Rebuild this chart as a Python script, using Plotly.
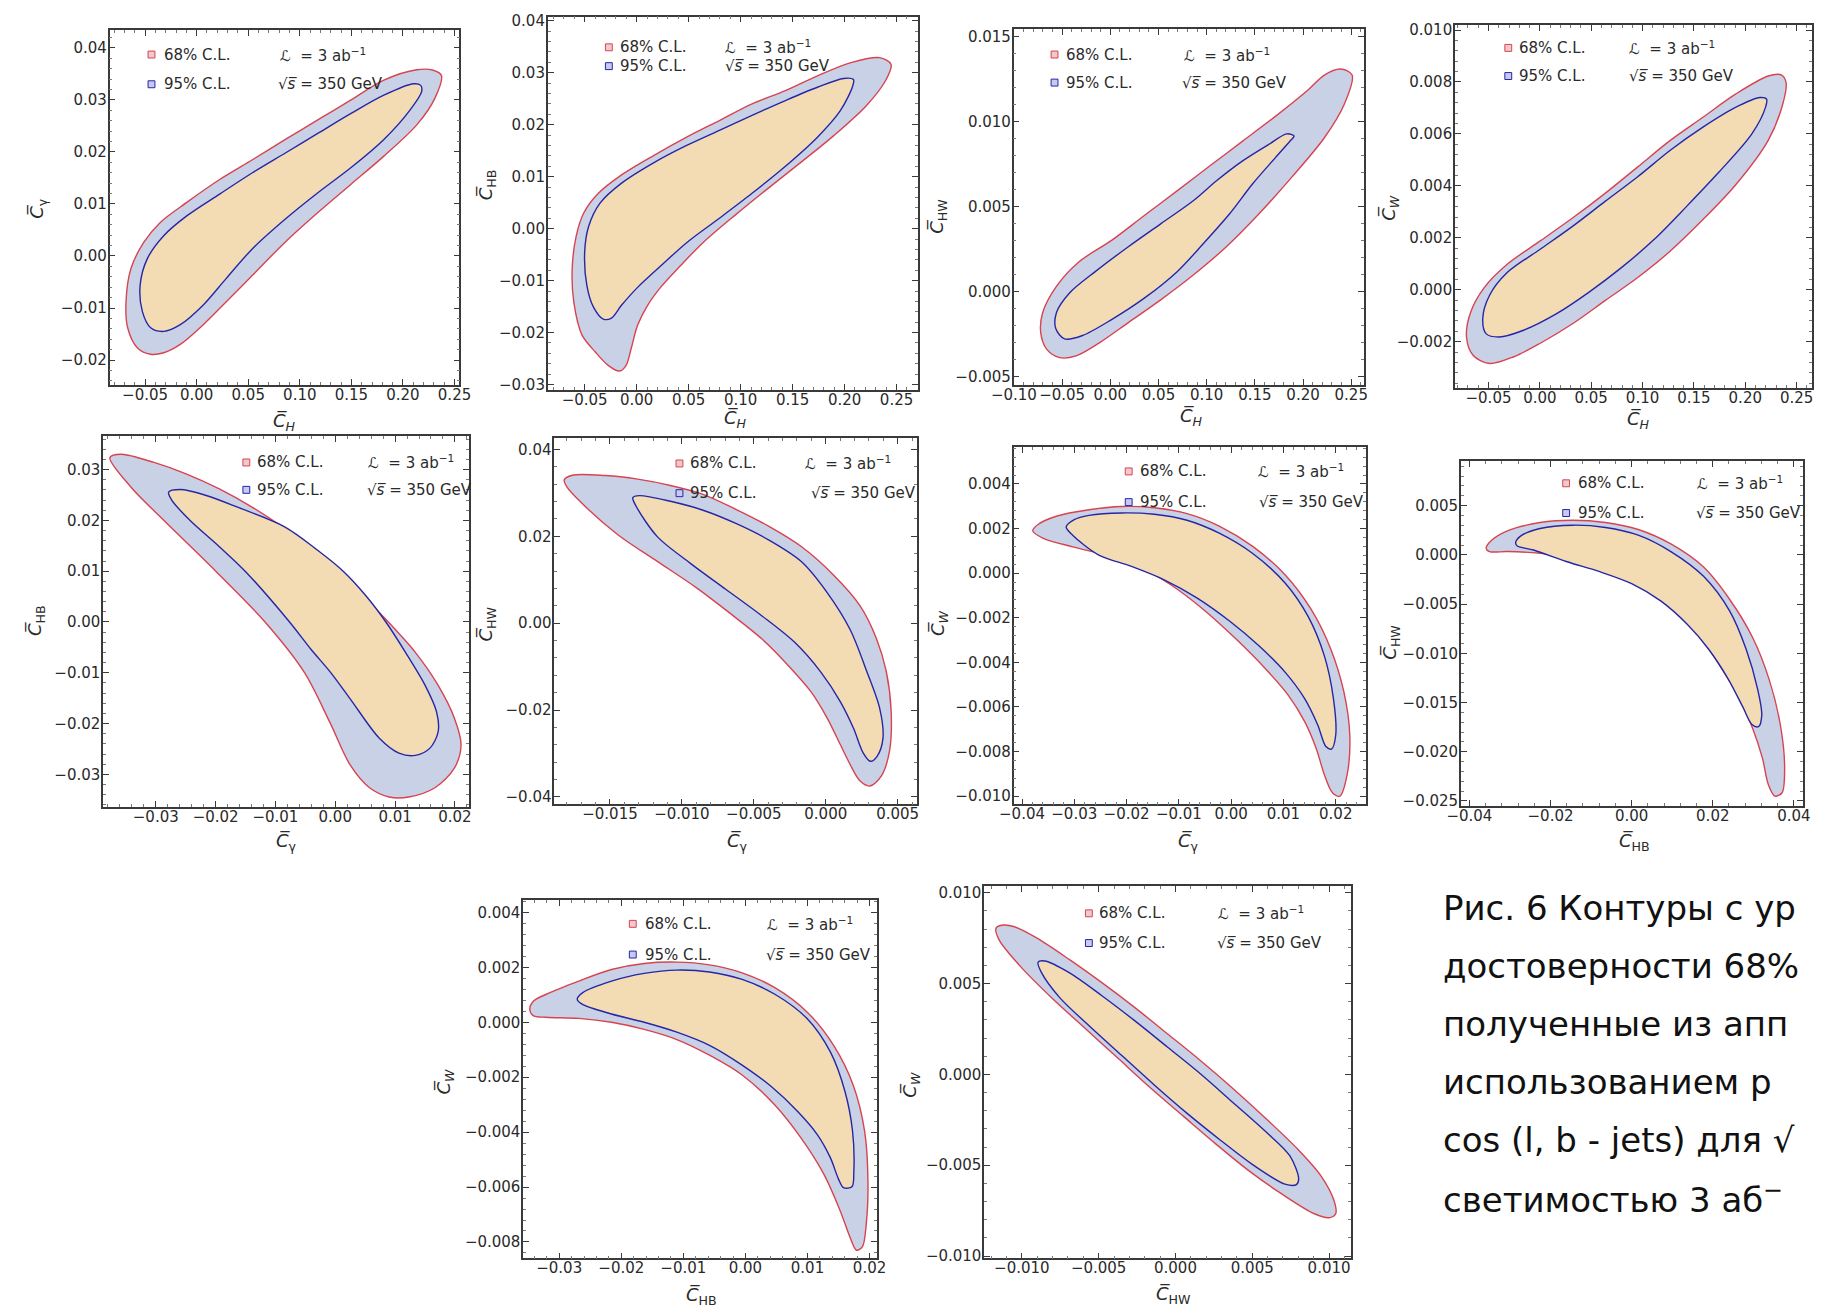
import plotly.graph_objects as go

W, H = 1826, 1314

# ---------------- contour data ----------------
# Panel 1: c_H vs c_gamma
p1_outer_x = [0.2373, 0.2293, 0.2134, 0.1815, 0.1497, 0.1178, 0.0860, 0.0541, 0.0223, -0.0096, -0.0350, -0.0510, -0.0637, -0.0685, -0.0669, -0.0573, -0.0446, -0.0319, -0.0159, 0.0064, 0.0287, 0.0541, 0.0860, 0.1178, 0.1497, 0.1815, 0.2134, 0.2309]
p1_outer_y = [0.0347, 0.0357, 0.0358, 0.0338, 0.0300, 0.0262, 0.0224, 0.0185, 0.0147, 0.0103, 0.0065, 0.0027, -0.0024, -0.0088, -0.0138, -0.0177, -0.0189, -0.0186, -0.0170, -0.0132, -0.0088, -0.0037, 0.0027, 0.0084, 0.0138, 0.0192, 0.0252, 0.0303]
p1_inner_x = [0.2172, 0.2102, 0.1815, 0.1497, 0.1178, 0.0860, 0.0541, 0.0223, -0.0096, -0.0319, -0.0478, -0.0548, -0.0526, -0.0446, -0.0319, -0.0159, 0.0064, 0.0287, 0.0541, 0.0860, 0.1178, 0.1497, 0.1815, 0.2070, 0.2181]
p1_inner_y = [0.0328, 0.0331, 0.0309, 0.0274, 0.0236, 0.0198, 0.0160, 0.0119, 0.0077, 0.0039, -0.0005, -0.0056, -0.0107, -0.0138, -0.0145, -0.0132, -0.0094, -0.0043, 0.0014, 0.0071, 0.0122, 0.0170, 0.0224, 0.0281, 0.0316]

# Panel 2: c_H vs c_HB
p2_outer_x = [0.2447, 0.2337, 0.2054, 0.1739, 0.1425, 0.1110, 0.0796, 0.0481, 0.0167, -0.0148, -0.0368, -0.0509, -0.0582, -0.0620, -0.0604, -0.0525, -0.0399, -0.0274, -0.0164, -0.0101, -0.0053, 0.0009, 0.0104, 0.0230, 0.0418, 0.0638, 0.0953, 0.1267, 0.1582, 0.1896, 0.2211, 0.2400]
p2_outer_y = [0.0316, 0.0329, 0.0319, 0.0294, 0.0265, 0.0240, 0.0208, 0.0176, 0.0141, 0.0103, 0.0068, 0.0030, -0.0015, -0.0078, -0.0142, -0.0205, -0.0237, -0.0263, -0.0274, -0.0263, -0.0231, -0.0186, -0.0148, -0.0113, -0.0072, -0.0027, 0.0027, 0.0078, 0.0128, 0.0179, 0.0237, 0.0287]
p2_inner_x = [0.2085, 0.1991, 0.1739, 0.1425, 0.1110, 0.0796, 0.0481, 0.0167, -0.0148, -0.0352, -0.0462, -0.0500, -0.0478, -0.0415, -0.0321, -0.0242, -0.0148, 0.0009, 0.0230, 0.0481, 0.0796, 0.1110, 0.1425, 0.1739, 0.1959, 0.2079]
p2_inner_y = [0.0287, 0.0289, 0.0272, 0.0246, 0.0218, 0.0189, 0.0160, 0.0127, 0.0087, 0.0049, 0.0004, -0.0046, -0.0110, -0.0151, -0.0174, -0.0172, -0.0148, -0.0113, -0.0072, -0.0027, 0.0020, 0.0068, 0.0119, 0.0176, 0.0227, 0.0275]

# Panel 3: c_H vs c_HW
p3_outer_x = [0.2509, 0.2390, 0.2221, 0.2051, 0.1713, 0.1373, 0.1034, 0.0696, 0.0356, 0.0017, -0.0321, -0.0559, -0.0702, -0.0722, -0.0661, -0.0525, -0.0356, -0.0118, 0.0187, 0.0526, 0.0864, 0.1204, 0.1543, 0.1881, 0.2221, 0.2425]
p3_outer_y = [0.01272, 0.01307, 0.01272, 0.01184, 0.01029, 0.00883, 0.00738, 0.00592, 0.00447, 0.00301, 0.00175, 0.00029, -0.00126, -0.00243, -0.00340, -0.00390, -0.00380, -0.00305, -0.00184, -0.00049, 0.00097, 0.00262, 0.00456, 0.00670, 0.00903, 0.01097]
p3_inner_x = [0.1906, 0.1831, 0.1644, 0.1373, 0.1102, 0.0864, 0.0526, 0.0187, -0.0153, -0.0423, -0.0559, -0.0565, -0.0474, -0.0288, 0.0017, 0.0356, 0.0696, 0.0966, 0.1238, 0.1475, 0.1713, 0.1865]
p3_inner_y = [0.00913, 0.00926, 0.00864, 0.00767, 0.00650, 0.00534, 0.00398, 0.00262, 0.00117, -0.00010, -0.00126, -0.00220, -0.00280, -0.00260, -0.00165, -0.00039, 0.00117, 0.00281, 0.00456, 0.00631, 0.00786, 0.00884]

# Panel 4: c_H vs c_W
p4_outer_x = [0.2397, 0.2350, 0.2223, 0.1905, 0.1588, 0.1270, 0.0953, 0.0635, 0.0318, 0.0000, -0.0318, -0.0540, -0.0673, -0.0714, -0.0651, -0.0492, -0.0254, 0.0000, 0.0318, 0.0635, 0.0953, 0.1270, 0.1588, 0.1905, 0.2223, 0.2365]
p4_outer_y = [0.00798, 0.00827, 0.00823, 0.00753, 0.00664, 0.00575, 0.00473, 0.00371, 0.00276, 0.00187, 0.00098, 0.00009, -0.00086, -0.00182, -0.00252, -0.00284, -0.00258, -0.00207, -0.00131, -0.00042, 0.00047, 0.00149, 0.00270, 0.00403, 0.00575, 0.00715]
p4_inner_x = [0.2207, 0.2143, 0.1905, 0.1588, 0.1270, 0.0953, 0.0635, 0.0318, 0.0000, -0.0318, -0.0492, -0.0556, -0.0524, -0.0397, -0.0159, 0.0159, 0.0476, 0.0794, 0.1111, 0.1429, 0.1746, 0.2064, 0.2197]
p4_inner_y = [0.00734, 0.00740, 0.00702, 0.00626, 0.00537, 0.00435, 0.00340, 0.00244, 0.00155, 0.00066, -0.00023, -0.00112, -0.00169, -0.00182, -0.00156, -0.00093, -0.00010, 0.00085, 0.00193, 0.00321, 0.00454, 0.00600, 0.00702]

# Panel 5: c_gamma vs c_HB
p5_outer_x = [-0.03767, -0.03576, -0.03030, -0.02484, -0.01938, -0.01392, -0.00846, -0.00300, 0.00246, 0.00792, 0.01338, 0.01720, 0.01993, 0.02102, 0.01993, 0.01665, 0.01229, 0.00901, 0.00573, 0.00246, -0.00082, -0.00519, -0.01174, -0.01993, -0.02867, -0.03413]
p5_outer_y = [0.03237, 0.03302, 0.03140, 0.02912, 0.02620, 0.02262, 0.01840, 0.01352, 0.00767, 0.00117, -0.00598, -0.01248, -0.01898, -0.02418, -0.02873, -0.03263, -0.03445, -0.03445, -0.03263, -0.02808, -0.01996, -0.00988, 0.00000, 0.00995, 0.02002, 0.02652]
p5_inner_x = [-0.02785, -0.02594, -0.02157, -0.01611, -0.00846, -0.00300, 0.00137, 0.00519, 0.00846, 0.01174, 0.01502, 0.01693, 0.01720, 0.01583, 0.01338, 0.01065, 0.00737, 0.00246, -0.00082, -0.00410, -0.00764, -0.01502, -0.01938, -0.02430, -0.02730]
p5_inner_y = [0.02555, 0.02607, 0.02490, 0.02249, 0.01872, 0.01417, 0.00995, 0.00507, 0.00000, -0.00598, -0.01248, -0.01768, -0.02158, -0.02483, -0.02626, -0.02581, -0.02288, -0.01508, -0.00988, -0.00533, 0.00000, 0.00995, 0.01482, 0.02002, 0.02392]

# Panel 6: c_gamma vs c_HW
p6_outer_x = [-0.01818, -0.01762, -0.01534, -0.01307, -0.01080, -0.00853, -0.00625, -0.00398, -0.00170, 0.00057, 0.00239, 0.00352, 0.00420, 0.00455, 0.00443, 0.00386, 0.00307, 0.00239, 0.00170, 0.00102, 0.00011, -0.00102, -0.00261, -0.00443, -0.00671, -0.00898, -0.01171, -0.01443, -0.01693, -0.01802]
p6_outer_y = [0.03301, 0.03407, 0.03399, 0.03316, 0.03171, 0.02966, 0.02620, 0.02235, 0.01765, 0.01100, 0.00400, -0.00350, -0.01100, -0.02038, -0.02951, -0.03521, -0.03749, -0.03635, -0.03255, -0.02799, -0.02190, -0.01582, -0.00973, -0.00365, 0.00243, 0.00814, 0.01422, 0.02031, 0.02753, 0.03149]
p6_inner_x = [-0.01341, -0.01296, -0.01080, -0.00853, -0.00625, -0.00398, -0.00170, 0.00011, 0.00170, 0.00284, 0.00375, 0.00398, 0.00357, 0.00311, 0.00261, 0.00193, 0.00102, -0.00034, -0.00216, -0.00443, -0.00693, -0.00943, -0.01171, -0.01318]
p6_inner_y = [0.02890, 0.02936, 0.02806, 0.02601, 0.02297, 0.01920, 0.01420, 0.00700, -0.00150, -0.01100, -0.01962, -0.02647, -0.03065, -0.03179, -0.02989, -0.02418, -0.01810, -0.01126, -0.00441, 0.00167, 0.00776, 0.01384, 0.01993, 0.02692]

# Panel 7: c_gamma vs c_W
p7_outer_x = [-0.03794, -0.03688, -0.03344, -0.02719, -0.02094, -0.01469, -0.00844, -0.00219, 0.00406, 0.01031, 0.01531, 0.01906, 0.02156, 0.02269, 0.02219, 0.02081, 0.01938, 0.01781, 0.01625, 0.01406, 0.01094, 0.00656, 0.00094, -0.00531, -0.01156, -0.01781, -0.02406, -0.03031, -0.03594]
p7_outer_y = [0.00190, 0.00219, 0.00255, 0.00284, 0.00299, 0.00293, 0.00267, 0.00210, 0.00121, -0.00007, -0.00163, -0.00341, -0.00533, -0.00726, -0.00903, -0.01000, -0.00985, -0.00903, -0.00785, -0.00666, -0.00548, -0.00429, -0.00296, -0.00163, -0.00052, 0.00030, 0.00081, 0.00118, 0.00156]
p7_inner_x = [-0.03156, -0.03000, -0.02719, -0.02094, -0.01469, -0.00844, -0.00219, 0.00406, 0.01031, 0.01469, 0.01781, 0.01956, 0.02000, 0.01919, 0.01813, 0.01656, 0.01406, 0.01031, 0.00531, -0.00031, -0.00656, -0.01281, -0.01906, -0.02531, -0.03031]
p7_inner_y = [0.00207, 0.00240, 0.00259, 0.00270, 0.00264, 0.00237, 0.00178, 0.00089, -0.00044, -0.00193, -0.00370, -0.00563, -0.00726, -0.00789, -0.00778, -0.00681, -0.00563, -0.00444, -0.00326, -0.00215, -0.00111, -0.00030, 0.00030, 0.00081, 0.00170]

# Panel 8: c_HB vs c_HW
p8_outer_x = [-0.03587, -0.03466, -0.03063, -0.02257, -0.01451, -0.00645, 0.00161, 0.00967, 0.01773, 0.02418, 0.02982, 0.03385, 0.03667, 0.03772, 0.03708, 0.03530, 0.03369, 0.03224, 0.02982, 0.02660, 0.02176, 0.01612, 0.00967, 0.00161, -0.00645, -0.01451, -0.02257, -0.03063, -0.03506]
p8_outer_y = [0.00067, 0.00144, 0.00245, 0.00329, 0.00352, 0.00329, 0.00258, 0.00111, -0.00124, -0.00453, -0.00839, -0.01259, -0.01728, -0.02165, -0.02416, -0.02450, -0.02332, -0.02064, -0.01762, -0.01460, -0.01124, -0.00789, -0.00503, -0.00268, -0.00117, -0.00023, 0.00017, 0.00034, 0.00034]
p8_inner_x = [-0.02861, -0.02740, -0.02257, -0.01451, -0.00645, 0.00161, 0.00967, 0.01773, 0.02418, 0.02821, 0.03103, 0.03208, 0.03127, 0.02966, 0.02740, 0.02378, 0.01894, 0.01370, 0.00725, 0.00000, -0.00806, -0.01612, -0.02418, -0.02821]
p8_inner_y = [0.00124, 0.00191, 0.00268, 0.00302, 0.00279, 0.00201, 0.00034, -0.00218, -0.00571, -0.00956, -0.01359, -0.01628, -0.01745, -0.01722, -0.01544, -0.01259, -0.00956, -0.00705, -0.00470, -0.00292, -0.00168, -0.00067, 0.00050, 0.00091]

# Panel 9: c_HB vs c_W
p9_outer_x = [-0.03474, -0.03410, -0.03210, -0.02684, -0.02158, -0.01631, -0.01105, -0.00579, -0.00053, 0.00474, 0.01000, 0.01421, 0.01737, 0.01921, 0.01974, 0.01947, 0.01884, 0.01789, 0.01684, 0.01526, 0.01263, 0.00895, 0.00474, -0.00053, -0.00579, -0.01105, -0.01631, -0.02158, -0.02684, -0.03210, -0.03421]
p9_outer_y = [0.00048, 0.00078, 0.00102, 0.00150, 0.00192, 0.00214, 0.00219, 0.00209, 0.00180, 0.00126, 0.00036, -0.00084, -0.00229, -0.00397, -0.00577, -0.00734, -0.00818, -0.00830, -0.00782, -0.00686, -0.00553, -0.00421, -0.00301, -0.00192, -0.00120, -0.00063, -0.00026, 0.00000, 0.00014, 0.00018, 0.00024]
p9_inner_x = [-0.02710, -0.02621, -0.02158, -0.01631, -0.01105, -0.00579, -0.00053, 0.00474, 0.01000, 0.01368, 0.01605, 0.01726, 0.01747, 0.01716, 0.01579, 0.01500, 0.01368, 0.01158, 0.00842, 0.00421, -0.00053, -0.00579, -0.01105, -0.01631, -0.02158, -0.02631]
p9_inner_y = [0.00084, 0.00108, 0.00150, 0.00178, 0.00190, 0.00183, 0.00156, 0.00102, 0.00012, -0.00108, -0.00253, -0.00397, -0.00541, -0.00599, -0.00602, -0.00571, -0.00493, -0.00409, -0.00325, -0.00235, -0.00156, -0.00084, -0.00036, 0.00000, 0.00030, 0.00066]

# Panel 10: c_HW vs c_W
p10_outer_x = [-0.01168, -0.01121, -0.01053, -0.00904, -0.00692, -0.00479, -0.00266, -0.00053, 0.00160, 0.00372, 0.00585, 0.00798, 0.00947, 0.01032, 0.01043, 0.01000, 0.00904, 0.00692, 0.00479, 0.00266, 0.00053, -0.00160, -0.00372, -0.00585, -0.00798, -0.01011, -0.01149]
p10_outer_y = [0.00805, 0.00822, 0.00814, 0.00751, 0.00633, 0.00505, 0.00369, 0.00224, 0.00078, -0.00076, -0.00240, -0.00413, -0.00558, -0.00694, -0.00767, -0.00789, -0.00767, -0.00658, -0.00531, -0.00385, -0.00231, -0.00076, 0.00087, 0.00251, 0.00415, 0.00596, 0.00742]
p10_inner_x = [-0.00894, -0.00851, -0.00692, -0.00479, -0.00266, -0.00053, 0.00160, 0.00372, 0.00585, 0.00745, 0.00802, 0.00787, 0.00713, 0.00500, 0.00287, 0.00074, -0.00138, -0.00351, -0.00564, -0.00755, -0.00872]
p10_inner_y = [0.00618, 0.00624, 0.00560, 0.00433, 0.00296, 0.00151, 0.00005, -0.00153, -0.00313, -0.00449, -0.00576, -0.00607, -0.00604, -0.00495, -0.00358, -0.00213, -0.00058, 0.00105, 0.00269, 0.00424, 0.00560]

legend_labels = ["68% C.L.", "95% C.L."]
lumi_text = "ℒ  = 3 ab<sup>−1</sup>"
energy_text = "√<i>s\u0305</i> = 350 GeV"

# caption as visible in the reference (it runs off the right edge of the picture)
caption_lines = [
    "Рис. 6 Контуры с ур",
    "достоверности 68%",
    "полученные из апп",
    "использованием р",
    "cos (l, b - jets) для √",
    "светимостью 3 аб<sup>−</sup>",
]


def lab(sub):
    s = f"<i>{sub}</i>" if sub in ("H", "W") else sub
    return f"<i>C\u0305</i><sub>{s}</sub>"


# ---------------- panel layout (pixel frames, axis ranges) ----------------
panels = [
    dict(o=(p1_outer_x, p1_outer_y), i=(p1_inner_x, p1_inner_y), box=(88.3, 445, 25.7, 383.3),
         xr=(-0.0844, 0.2548), yr=(-0.02476, 0.04335), xd=0.05, yd=0.01, xf=".2f", yf=".2f",
         xl=lab("H"), yl=lab("γ"), xt=(266.7, 421), yt=(15, 205),
         leg=(131, 141.7, 260, 258.3, 50, 80)),
    dict(o=(p2_outer_x, p2_outer_y), i=(p2_inner_x, p2_inner_y), box=(535, 912.7, 11.7, 388.3),
         xr=(-0.0855, 0.2708), yr=(-0.0310, 0.0408), xd=0.05, yd=0.01, xf=".2f", yf=".2f",
         xl=lab("H"), yl=lab("HB"), xt=(726.7, 418), yt=(473.3, 181.7),
         leg=(597.3, 606.7, 714, 713.3, 42.7, 61.7)),
    dict(o=(p3_outer_x, p3_outer_y), i=(p3_inner_x, p3_inner_y), box=(1010, 1366.7, 24, 383.3),
         xr=(-0.1003, 0.2627), yr=(-0.0055, 0.01544), xd=0.05, yd=0.005, xf=".2f", yf=".3f",
         xl=lab("H"), yl=lab("HW"), xt=(1191.7, 416), yt=(933.3, 213.3),
         leg=(1051.7, 1061.7, 1181.7, 1180, 50, 78.3)),
    dict(o=(p4_outer_x, p4_outer_y), i=(p4_inner_x, p4_inner_y), box=(1460, 1824, 20, 386.7),
         xr=(-0.0826, 0.265), yr=(-0.00379, 0.0102), xd=0.05, yd=0.002, xf=".2f", yf=".3f",
         xl=lab("H"), yl=lab("W"), xt=(1646.7, 419), yt=(1393.3, 205),
         leg=(1514.3, 1523.3, 1635, 1635, 43.3, 71.7)),
    dict(o=(p5_outer_x, p5_outer_y), i=(p5_inner_x, p5_inner_y), box=(81.7, 455, 435, 809.3),
         xr=(-0.0388, 0.0224), yr=(-0.0364, 0.0366), xd=0.01, yd=0.01, xf=".2f", yf=".2f",
         xl=lab("γ"), yl=lab("HB"), xt=(268.3, 845), yt=(13.3, 621.7),
         leg=(227.7, 236.7, 350, 348.3, 461.7, 489.3)),
    dict(o=(p6_outer_x, p6_outer_y), i=(p6_inner_x, p6_inner_y), box=(541.7, 911.7, 436.7, 806.7),
         xr=(-0.01887, 0.00636), yr=(-0.0417, 0.0427), xd=0.005, yd=0.02, xf=".3f", yf=".2f",
         xl=lab("γ"), yl=lab("HW"), xt=(728.3, 845), yt=(473.3, 625),
         leg=(669.3, 678.3, 795, 801.7, 462.7, 492.7)),
    dict(o=(p7_outer_x, p7_outer_y), i=(p7_inner_x, p7_inner_y), box=(1010, 1369.3, 446, 806.7),
         xr=(-0.0416, 0.0258), yr=(-0.01037, 0.00566), xd=0.01, yd=0.002, xf=".2f", yf=".3f",
         xl=lab("γ"), yl=lab("W"), xt=(1188.3, 845), yt=(933.3, 623.3),
         leg=(1127.3, 1136.7, 1256.7, 1258.3, 470.7, 501.7)),
    dict(o=(p8_outer_x, p8_outer_y), i=(p8_inner_x, p8_inner_y), box=(1466, 1815, 460, 808.3),
         xr=(-0.0421, 0.0423), yr=(-0.0255, 0.00956), xd=0.02, yd=0.005, xf=".2f", yf=".3f",
         xl=lab("HB"), yl=lab("HW"), xt=(1643.3, 845), yt=(1395, 643.3),
         leg=(1573.3, 1583.3, 1705, 1703.3, 482.7, 512.7)),
    dict(o=(p9_outer_x, p9_outer_y), i=(p9_inner_x, p9_inner_y), box=(510, 870.7, 903.3, 1265),
         xr=(-0.0358, 0.0212), yr=(-0.0086, 0.00445), xd=0.01, yd=0.002, xf=".2f", yf=".3f",
         xl=lab("HB"), yl=lab("W"), xt=(691.7, 1303), yt=(430, 1086.7),
         leg=(621.7, 631.7, 756.7, 755, 927.3, 958.3)),
    dict(o=(p10_outer_x, p10_outer_y), i=(p10_inner_x, p10_inner_y), box=(980, 1354, 889.3, 1265),
         xr=(-0.01245, 0.01143), yr=(-0.01013, 0.01036), xd=0.005, yd=0.005, xf=".3f", yf=".3f",
         xl=lab("HW"), yl=lab("W"), xt=(1173.3, 1302), yt=(905, 1090),
         leg=(1086.7, 1095, 1216.7, 1215, 916.7, 946.7)),
]

OUTER_FILL = "#c8d1e6"
INNER_FILL = "#f3dcb3"
OUTER_LINE = "#d8434f"
INNER_LINE = "#2626a6"
FRAME = "#3a3a3a"
FONT = "DejaVu Sans"


def px(x):
    return x / W


def py(y):
    return 1 - y / H


fig = go.Figure()
annotations = []
shapes = []
layout_axes = {}

for k, p in enumerate(panels, start=1):
    xa = "x" if k == 1 else f"x{k}"
    ya = "y" if k == 1 else f"y{k}"
    for (xs, ys), fill, lc in ((p["o"], OUTER_FILL, OUTER_LINE), (p["i"], INNER_FILL, INNER_LINE)):
        fig.add_trace(go.Scatter(
            x=list(xs) + [xs[0]], y=list(ys) + [ys[0]], xaxis=xa, yaxis=ya,
            mode="lines", fill="toself", fillcolor=fill,
            line=dict(color=lc, width=1.4, shape="spline", smoothing=0.9),
            hoverinfo="skip", showlegend=False))
    L, R, T, B = p["box"]
    axcommon = dict(showline=True, linecolor=FRAME, linewidth=1.6, mirror="allticks",
                    ticks="inside", ticklen=6, tickwidth=1, tickcolor=FRAME,
                    showgrid=False, zeroline=False, tick0=0,
                    tickfont=dict(family=FONT, size=15, color="#2a2a2a"))
    layout_axes["xaxis" if k == 1 else f"xaxis{k}"] = dict(
        axcommon, domain=[px(L), px(R)], anchor=ya, range=list(p["xr"]), dtick=p["xd"],
        tickformat=p["xf"], ticklabelstandoff=-5,
        minor=dict(ticks="inside", ticklen=3, dtick=p["xd"] / 5, tickcolor="#777"))
    layout_axes["yaxis" if k == 1 else f"yaxis{k}"] = dict(
        axcommon, domain=[py(B), py(T)], anchor=xa, range=list(p["yr"]), dtick=p["yd"],
        tickformat=p["yf"], ticklabelstandoff=-2,
        minor=dict(ticks="inside", ticklen=3, dtick=p["yd"] / 5, tickcolor="#777"))

    # axis titles
    annotations.append(dict(x=px(p["xt"][0]), y=py(p["xt"][1]), xref="paper", yref="paper",
                            text=p["xl"], showarrow=False, xanchor="center", yanchor="middle",
                            font=dict(family=FONT, size=18, color="#2a2a2a")))
    annotations.append(dict(x=px(p["yt"][0]), y=py(p["yt"][1]), xref="paper", yref="paper",
                            text=p["yl"], showarrow=False, xanchor="center", yanchor="middle",
                            textangle=-90, font=dict(family=FONT, size=18, color="#2a2a2a")))

    # in-panel legend
    sqx, tx, lx, ex, r1, r2 = p["leg"]
    for (ry, edge, sfill, label) in ((r1, OUTER_LINE, "#efc9cc", legend_labels[0]),
                                     (r2, INNER_LINE, "#c9c9ef", legend_labels[1])):
        shapes.append(dict(type="rect", xref="paper", yref="paper",
                           x0=px(sqx - 3.5), x1=px(sqx + 3.5), y0=py(ry + 3.5), y1=py(ry - 3.5),
                           line=dict(color=edge, width=1), fillcolor=sfill))
        annotations.append(dict(x=px(tx), y=py(ry), xref="paper", yref="paper", text=label,
                                showarrow=False, xanchor="left", yanchor="middle",
                                font=dict(family=FONT, size=15, color="#2a2a2a")))
    annotations.append(dict(x=px(lx), y=py(r1), xref="paper", yref="paper", text=lumi_text,
                            showarrow=False, xanchor="left", yanchor="middle",
                            font=dict(family=FONT, size=15, color="#2a2a2a")))
    annotations.append(dict(x=px(ex), y=py(r2), xref="paper", yref="paper", text=energy_text,
                            showarrow=False, xanchor="left", yanchor="middle",
                            font=dict(family=FONT, size=15, color="#2a2a2a")))

# caption text at bottom right
for n, line in enumerate(caption_lines):
    centre = 911 + 58.5 * n
    annotations.append(dict(x=px(1446), y=py(centre), xref="paper", yref="paper", text=line,
                            showarrow=False, xanchor="left", yanchor="middle",
                            font=dict(family=FONT, size=34, color="#111111")))

fig.update_layout(
    width=W, height=H, margin=dict(l=0, r=0, t=0, b=0),
    paper_bgcolor="white", plot_bgcolor="white", showlegend=False,
    annotations=annotations, shapes=shapes, **layout_axes)

fig.write_html("out.html")
